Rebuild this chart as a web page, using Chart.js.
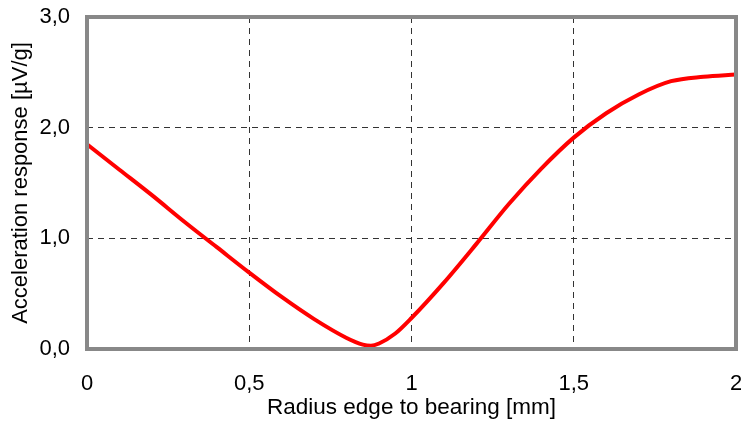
<!DOCTYPE html>
<html>
<head>
<meta charset="utf-8">
<script src="https://cdn.jsdelivr.net/npm/chart.js@4"></script>
<style>
  html, body { margin: 0; padding: 0; background: #fff; }
  #wrap { width: 741px; height: 421px; }
</style>
</head>
<body>
<div id="wrap"><canvas id="chart" width="741" height="421"></canvas></div>
<script>
// radius edge to bearing [mm]
const radius = [0, 0.1, 0.2, 0.3, 0.4, 0.5, 0.6, 0.7, 0.8, 0.85, 0.875, 0.9, 0.95, 1.0,
                1.1, 1.2, 1.3, 1.4, 1.5, 1.6, 1.7, 1.8, 1.9, 2.0];
// acceleration response [µV/g]
const response = [1.85, 1.62, 1.39, 1.15, 0.92, 0.69, 0.47, 0.27, 0.10, 0.04, 0.03, 0.05, 0.14, 0.28,
                  0.60, 0.95, 1.31, 1.63, 1.91, 2.13, 2.30, 2.42, 2.46, 2.48];

const xTitle = "Radius edge to bearing [mm]";
const yTitle = "Acceleration response [µV/g]";

const points = radius.map((r, i) => ({ x: r, y: response[i] }));

// grey frame around the plot area
const frame = {
    id: "frame",
    afterDatasetsDraw(chart) {
        const a = chart.chartArea;
        const ctx = chart.ctx;
        ctx.save();
        ctx.strokeStyle = "#888888";
        ctx.lineWidth = 4;
        ctx.strokeRect(a.left, a.top, a.right - a.left, a.bottom - a.top);
        ctx.restore();
    }
};

const font = { family: "'Liberation Sans', Arial, sans-serif", size: 22 };

new Chart(document.getElementById("chart"), {
    type: "line",
    data: {
        datasets: [{
            data: points,
            borderColor: "#ff0000",
            borderWidth: 4,
            pointRadius: 0,
            cubicInterpolationMode: "monotone",
            fill: false
        }]
    },
    options: {
        responsive: false,
        animation: false,
        layout: { padding: { top: 17, right: 5, left: 0, bottom: 0 } },
        plugins: { legend: { display: false }, tooltip: { enabled: false } },
        scales: {
            x: {
                type: "linear",
                min: 0,
                max: 2,
                afterFit(scale) {
                    scale.height = 72;
                    scale.paddingLeft = 0;
                    scale.paddingRight = 0;
                },
                ticks: {
                    stepSize: 0.5,
                    color: "#000",
                    font: font,
                    padding: 22,
                    maxRotation: 0,
                    callback: v => String(v).replace(".", ",")
                },
                grid: {
                    color: "#333",
                    lineWidth: 1,
                    drawTicks: false
                },
                border: { display: false, dash: [6, 5] },
                title: {
                    display: true,
                    text: xTitle,
                    color: "#000",
                    font: { family: font.family, size: 22.5 },
                    padding: { top: 0, bottom: 0 }
                }
            },
            y: {
                min: 0,
                max: 3,
                afterFit(scale) {
                    scale.width = 87;
                    scale.paddingTop = 0;
                    scale.paddingBottom = 0;
                },
                ticks: {
                    stepSize: 1,
                    color: "#000",
                    font: font,
                    padding: 17,
                    callback: v => v.toFixed(1).replace(".", ",")
                },
                grid: {
                    color: "#333",
                    lineWidth: 1,
                    drawTicks: false
                },
                border: { display: false, dash: [6, 5] },
                title: {
                    display: true,
                    text: yTitle,
                    color: "#000",
                    font: font,
                    padding: { top: 8, bottom: 0 }
                }
            }
        }
    },
    plugins: [frame]
});
</script>
</body>
</html>
